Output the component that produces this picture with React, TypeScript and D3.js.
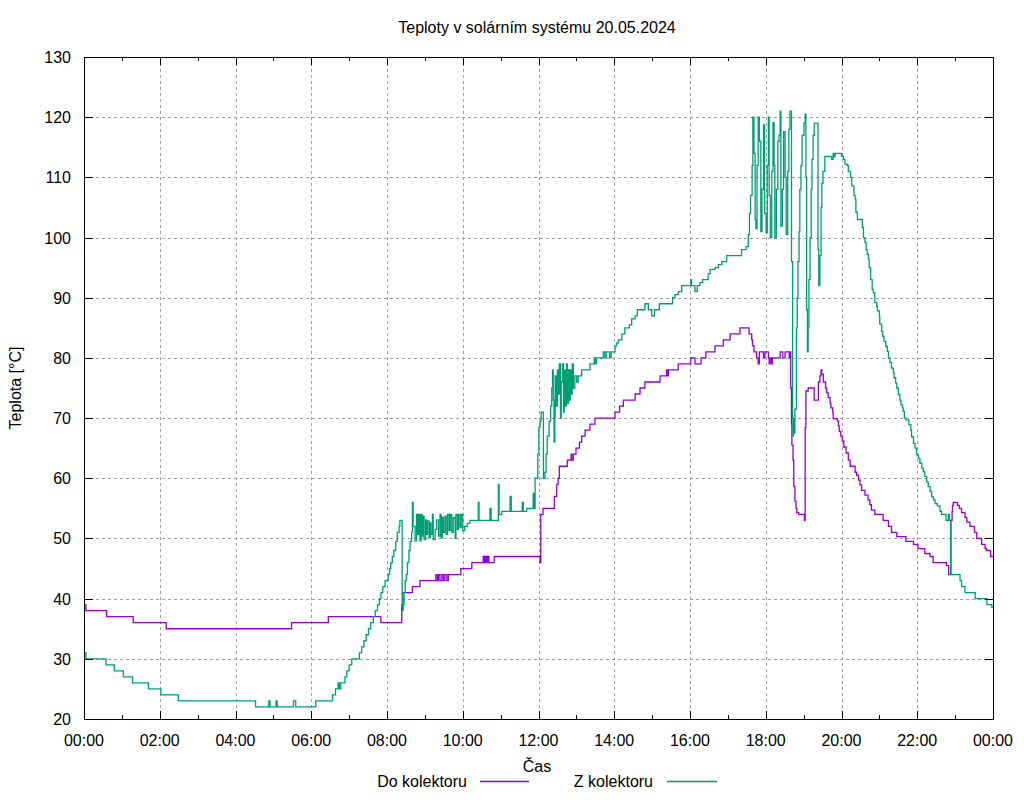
import React from "react";
import * as d3 from "d3";

// ---- data (hour of day, °C) ----
const doKolektoru: [number, number][] = [
  [0, 39], [0.05, 38], [0.6, 37], [1.3, 36], [2.17, 35], [5.48, 36], [6.45, 37], [7.84, 36],
  [8.39, 39], [8.42, 41], [8.67, 42], [8.87, 43], [9.29, 44], [9.33, 43], [9.36, 44], [9.4, 43],
  [9.45, 44], [9.49, 43], [9.53, 44], [9.58, 43], [9.62, 44], [9.95, 45], [10.24, 46], [10.54, 47],
  [10.57, 46], [10.6, 47], [10.63, 46], [10.66, 47], [10.69, 46], [10.83, 47], [12.04, 46], [12.06, 54],
  [12.12, 55], [12.42, 57], [12.48, 59], [12.52, 60], [12.55, 62], [12.76, 63], [12.86, 64], [12.88, 63],
  [12.92, 64], [12.99, 65], [13.08, 66], [13.14, 67], [13.23, 68], [13.36, 69], [13.49, 70], [14.02, 71],
  [14.14, 72], [14.24, 73], [14.55, 74], [14.68, 75], [14.81, 76], [15.21, 77], [15.38, 78], [15.41, 77],
  [15.43, 78], [15.69, 79], [16.02, 80], [16.13, 79], [16.29, 80], [16.42, 81], [16.66, 82], [16.88, 83],
  [17.06, 84], [17.32, 85], [17.56, 84], [17.63, 83], [17.65, 82], [17.69, 81], [17.76, 80], [17.8, 79],
  [17.83, 81], [17.94, 80], [17.98, 81], [18.07, 80], [18.09, 79], [18.11, 80], [18.15, 79], [18.18, 80],
  [18.38, 81], [18.45, 80], [18.51, 81], [18.62, 80], [18.64, 81], [18.66, 75], [18.68, 69], [18.69, 65.5],
  [18.72, 63], [18.74, 58.7], [18.77, 56.2], [18.8, 55], [18.82, 54.3], [18.87, 54], [19.02, 53], [19.04, 68.4],
  [19.06, 74.5], [19.12, 75], [19.28, 73], [19.39, 76], [19.43, 77], [19.46, 78], [19.48, 77.3], [19.52, 76],
  [19.58, 75], [19.61, 74.2], [19.65, 73.4], [19.7, 72.5], [19.72, 71.7], [19.77, 70.9], [19.78, 69.9],
  [19.89, 69.5], [19.92, 68.7], [19.94, 67.8], [19.98, 67], [20.02, 66.2], [20.06, 65.2], [20.12, 64.2],
  [20.18, 63], [20.23, 62], [20.36, 61], [20.4, 60.5], [20.45, 59.7], [20.49, 58.9], [20.53, 58],
  [20.62, 57.2], [20.7, 56.4], [20.75, 55.6], [20.79, 54.7], [20.88, 54], [21.1, 53], [21.24, 52],
  [21.32, 51], [21.46, 50.3], [21.7, 49.5], [21.9, 49], [22.02, 48.3], [22.2, 47.5], [22.34, 47],
  [22.42, 46], [22.77, 45.5], [22.83, 44], [22.89, 53], [22.92, 54.5], [22.93, 55.5], [22.95, 56],
  [23.06, 55.5], [23.11, 55], [23.17, 54.3], [23.26, 53.5], [23.31, 52.7], [23.39, 52], [23.51, 51],
  [23.57, 50], [23.7, 49], [23.79, 48.3], [23.83, 48], [23.94, 47], [24, 47],
];

const zKolektoru: [number, number][] = [
  [0, 31], [0.05, 30], [0.58, 29], [0.8, 28], [1.04, 27], [1.28, 26], [1.7, 25], [2.03, 24], [2.49, 23],
  [4.53, 22], [4.88, 23], [4.91, 22], [5.07, 23], [5.1, 22], [5.53, 23], [5.59, 22], [6.12, 23], [6.56, 24],
  [6.64, 25], [6.71, 26], [6.74, 25], [6.78, 26], [6.89, 27], [6.94, 28], [7.0, 29], [7.07, 30], [7.27, 31],
  [7.33, 32], [7.39, 33], [7.45, 34], [7.51, 35], [7.57, 36], [7.64, 37], [7.69, 38], [7.75, 39], [7.8, 40],
  [7.84, 41], [7.89, 42], [7.95, 43], [8.03, 44], [8.07, 45], [8.1, 46], [8.14, 47], [8.18, 48], [8.23, 49.5],
  [8.27, 51], [8.32, 52], [8.34, 53], [8.4, 38], [8.43, 39], [8.45, 41], [8.48, 43], [8.51, 44], [8.54, 46],
  [8.58, 48], [8.61, 49.5], [8.65, 51], [8.67, 56], [8.69, 52], [8.74, 49.6], [8.78, 54], [8.81, 50.7],
  [8.84, 54], [8.87, 49.6], [8.9, 54], [8.93, 50.4], [8.96, 53.7], [8.98, 49.8], [9.02, 53.1], [9.05, 50.7],
  [9.07, 52.9], [9.11, 50.1], [9.14, 52.6], [9.16, 50.7], [9.2, 54], [9.22, 49.8], [9.27, 51.5], [9.31, 53.1],
  [9.36, 50.4], [9.4, 54], [9.43, 50.1], [9.46, 53.5], [9.49, 51], [9.53, 53.7], [9.56, 50.7], [9.6, 54],
  [9.64, 51.3], [9.67, 54], [9.71, 51], [9.75, 53.5], [9.8, 50], [9.82, 54], [9.86, 51.5], [9.89, 54],
  [9.93, 51.8], [9.96, 54], [10.0, 51.3], [10.05, 52], [10.12, 52.5], [10.19, 53], [10.41, 56], [10.43, 53],
  [10.72, 55], [10.75, 53], [10.94, 59], [10.96, 54], [11.03, 54.5], [11.25, 57], [11.28, 54.5], [11.57, 56],
  [11.6, 54.5], [11.69, 55], [11.86, 57.5], [11.88, 55], [11.91, 60], [11.98, 64], [12.01, 68.5], [12.04, 69.5],
  [12.07, 71], [12.13, 60], [12.17, 61], [12.2, 64], [12.23, 67], [12.28, 69.5], [12.32, 72], [12.35, 75],
  [12.37, 78], [12.39, 73], [12.41, 66], [12.43, 70], [12.44, 77], [12.47, 72], [12.5, 78], [12.52, 74],
  [12.55, 79], [12.58, 70], [12.6, 76], [12.63, 79], [12.66, 71], [12.68, 78], [12.71, 72], [12.74, 79],
  [12.76, 72.5], [12.79, 78], [12.81, 73], [12.84, 78], [12.87, 74], [12.89, 79], [12.92, 75], [12.96, 77],
  [13.01, 76], [13.05, 77], [13.14, 78], [13.36, 79], [13.47, 80], [13.5, 79], [13.53, 80], [13.71, 81],
  [13.75, 80], [13.79, 81], [13.88, 80], [13.92, 81], [14.02, 82], [14.06, 82.5], [14.11, 83], [14.2, 84],
  [14.28, 85], [14.4, 85.5], [14.46, 86.5], [14.55, 87], [14.61, 88], [14.81, 89], [14.9, 88], [14.99, 87],
  [15.06, 88], [15.19, 89], [15.54, 90], [15.6, 90.5], [15.69, 91], [15.78, 92], [16.02, 93], [16.04, 92],
  [16.13, 91], [16.19, 92], [16.26, 92.5], [16.33, 93], [16.48, 94], [16.53, 94.7], [16.66, 95], [16.75, 95.5],
  [16.84, 96], [16.97, 97], [17.36, 98], [17.48, 98.5], [17.54, 100.5], [17.57, 104], [17.6, 107], [17.64, 112],
  [17.66, 120], [17.69, 114], [17.72, 103], [17.74, 101.5], [17.77, 112], [17.8, 120], [17.83, 116],
  [17.87, 101], [17.9, 108], [17.94, 118.7], [17.97, 104], [18.01, 100.8], [18.04, 112], [18.07, 120],
  [18.09, 107], [18.12, 100], [18.16, 111], [18.19, 119.1], [18.22, 112], [18.24, 100], [18.28, 108],
  [18.32, 116], [18.35, 117], [18.38, 121], [18.4, 101.9], [18.44, 108], [18.47, 117.6], [18.51, 110],
  [18.54, 100.5], [18.58, 111], [18.61, 118], [18.64, 121], [18.68, 96], [18.71, 70], [18.72, 67],
  [18.73, 70], [18.75, 67.5], [18.77, 71.5], [18.81, 85], [18.83, 90], [18.85, 96], [18.88, 101], [18.9, 108],
  [18.93, 112], [18.96, 117], [19.01, 119], [19.04, 120.5], [19.06, 110], [19.08, 88], [19.1, 81], [19.12, 85],
  [19.14, 93], [19.17, 100], [19.2, 108], [19.22, 113], [19.25, 117], [19.28, 119], [19.38, 98], [19.4, 92],
  [19.43, 97], [19.46, 105], [19.48, 109], [19.51, 111], [19.56, 113.5], [19.74, 113], [19.78, 114],
  [19.8, 113.5], [19.83, 114], [20.0, 113.5], [20.05, 113], [20.09, 112.2], [20.15, 112], [20.18, 111],
  [20.24, 110], [20.27, 108.6], [20.33, 107], [20.36, 106.4], [20.38, 104.2], [20.42, 103], [20.55, 101.7],
  [20.58, 100], [20.62, 99.2], [20.65, 98], [20.68, 97.2], [20.71, 96.4], [20.73, 95], [20.77, 93],
  [20.81, 91.4], [20.84, 90.8], [20.88, 89.2], [20.93, 88.6], [20.95, 87.8], [21.0, 86.9], [21.01, 85.6],
  [21.06, 84.4], [21.09, 83.6], [21.12, 82.8], [21.17, 81.9], [21.21, 81.1], [21.24, 80], [21.28, 79.2],
  [21.32, 78.3], [21.37, 77.5], [21.39, 76.7], [21.43, 75.8], [21.46, 75], [21.5, 73.9], [21.54, 73],
  [21.57, 72.2], [21.61, 71.7], [21.63, 71.1], [21.66, 70], [21.7, 69.7], [21.78, 68.9], [21.83, 68],
  [21.85, 66.9], [21.9, 65.8], [21.94, 65], [21.98, 63.9], [22.03, 63.3], [22.07, 62.5], [22.12, 61.7],
  [22.16, 61.1], [22.2, 60.3], [22.25, 59.4], [22.29, 58.6], [22.34, 57.8], [22.38, 56.9], [22.43, 56.4],
  [22.47, 55.8], [22.53, 55.4], [22.6, 54.5], [22.64, 54], [22.76, 53], [22.82, 54], [22.85, 53], [22.88, 44],
  [23.13, 43], [23.17, 42], [23.26, 41], [23.53, 40], [23.84, 39], [23.97, 38.5], [24, 38.5],
];

const xMajorTicks = [0, 2, 4, 6, 8, 10, 12, 14, 16, 18, 20, 22, 24];
const xTickLabels = ["00:00", "02:00", "04:00", "06:00", "08:00", "10:00", "12:00", "14:00", "16:00", "18:00", "20:00", "22:00", "00:00"];
const xMinorTicks = [1, 3, 5, 7, 9, 11, 13, 15, 17, 19, 21, 23];
const yTicks = [20, 30, 40, 50, 60, 70, 80, 90, 100, 110, 120, 130];

const title = "Teploty v solárním systému 20.05.2024";
const xLabel = "Čas";
const yLabel = "Teplota [°C]";
const seriesNames = ["Do kolektoru", "Z kolektoru"];
const colors = ["#9400d3", "#009e73"];

const W = 1024, H = 800;
const L = 84, R = 993, T = 57, B = 719;
const FONT = "'Liberation Sans', Arial, sans-serif";

export default function App() {
  const x = d3.scaleLinear().domain([0, 24]).range([L, R]);
  const y = d3.scaleLinear().domain([20, 130]).range([B, T]);
  const line = d3
    .line<[number, number]>()
    .x((d) => x(d[0]))
    .y((d) => y(d[1]))
    .curve(d3.curveStepAfter);

  const series = [doKolektoru, zKolektoru];
  const legendItems = [
    { textEnd: 467, x1: 480, x2: 529 },
    { textEnd: 653, x1: 667, x2: 717 },
  ];

  return (
    <div style={{ position: "absolute", left: 0, top: 0 }}>
      <svg width={W} height={H} style={{ display: "block", background: "#fff" }} fontFamily={FONT}>
        <rect x={0} y={0} width={W} height={H} fill="#fff" />
        <defs>
          <clipPath id="plotclip">
            <rect x={L} y={T} width={R - L + 1} height={B - T + 1} />
          </clipPath>
        </defs>
        {/* grid */}
        <g stroke="#a0a0a0" strokeWidth={1} strokeDasharray="3,3" shapeRendering="crispEdges">
          {xMajorTicks.slice(1, -1).map((t) => (
            <line key={"gx" + t} x1={Math.round(x(t)) + 0.5} x2={Math.round(x(t)) + 0.5} y1={T} y2={B} />
          ))}
          {yTicks.slice(1, -1).map((t) => (
            <line key={"gy" + t} x1={L} x2={R} y1={Math.round(y(t)) + 0.5} y2={Math.round(y(t)) + 0.5} />
          ))}
        </g>
        {/* data */}
        <g clipPath="url(#plotclip)" fill="none">
          {series.map((s, i) => (
            <path key={"s" + i} d={line(s) || ""} stroke={colors[i]} strokeWidth={1.3} />
          ))}
        </g>
        {/* frame and ticks */}
        <g stroke="#000" strokeWidth={1} shapeRendering="crispEdges" fill="none">
          <rect x={L + 0.5} y={T + 0.5} width={R - L} height={B - T} />
          {xMajorTicks.map((t) => (
            <g key={"tx" + t}>
              <line x1={Math.round(x(t)) + 0.5} x2={Math.round(x(t)) + 0.5} y1={B} y2={B - 8} />
              <line x1={Math.round(x(t)) + 0.5} x2={Math.round(x(t)) + 0.5} y1={T} y2={T + 8} />
            </g>
          ))}
          {xMinorTicks.map((t) => (
            <g key={"mx" + t}>
              <line x1={Math.round(x(t)) + 0.5} x2={Math.round(x(t)) + 0.5} y1={B} y2={B - 4} />
              <line x1={Math.round(x(t)) + 0.5} x2={Math.round(x(t)) + 0.5} y1={T} y2={T + 4} />
            </g>
          ))}
          {yTicks.map((t) => (
            <g key={"ty" + t}>
              <line x1={L} x2={L + 9} y1={Math.round(y(t)) + 0.5} y2={Math.round(y(t)) + 0.5} />
              <line x1={R - 8} x2={R} y1={Math.round(y(t)) + 0.5} y2={Math.round(y(t)) + 0.5} />
            </g>
          ))}
        </g>
        {/* tick labels */}
        <g fontSize={16} fill="#000">
          {yTicks.map((t) => (
            <text key={"ly" + t} x={71} y={y(t) + 6} textAnchor="end">
              {t}
            </text>
          ))}
          {xMajorTicks.map((t, i) => (
            <text key={"lx" + i} x={x(t)} y={746} textAnchor="middle">
              {xTickLabels[i]}
            </text>
          ))}
        </g>
        {/* titles */}
        <text x={537} y={33} textAnchor="middle" fontSize={16}>
          {title}
        </text>
        <text x={537} y={772} textAnchor="middle" fontSize={16}>
          {xLabel}
        </text>
        <text transform={`translate(21,${(T + B) / 2}) rotate(-90)`} textAnchor="middle" fontSize={16}>
          {yLabel}
        </text>
        {/* legend */}
        {legendItems.map((it, i) => (
          <g key={"lg" + i}>
            <text x={it.textEnd} y={787} textAnchor="end" fontSize={16} fill="#000">
              {seriesNames[i]}
            </text>
            <line
              x1={it.x1}
              x2={it.x2}
              y1={781.5}
              y2={781.5}
              style={{ stroke: colors[i], strokeWidth: 1.3 }}
            />
          </g>
        ))}
      </svg>
    </div>
  );
}
